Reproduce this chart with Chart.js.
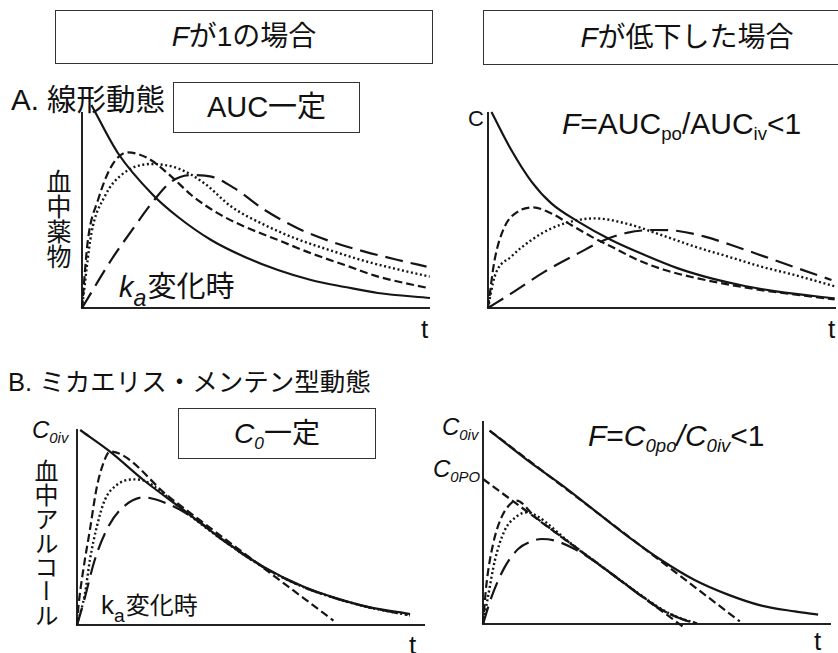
<!DOCTYPE html>
<html lang="ja">
<head>
<meta charset="utf-8">
<script src="https://cdn.jsdelivr.net/npm/chart.js@4/dist/chart.umd.min.js"></script>
<style>
  html, body { margin: 0; padding: 0; background: #fff; }
  body { width: 838px; height: 653px; position: relative; overflow: hidden;
         font-family: "Liberation Sans", "Noto Sans CJK JP", sans-serif; color: #111; }
  .t { position: absolute; white-space: nowrap; line-height: 1; }
  .box { position: absolute; box-sizing: border-box; border: 1.5px solid #333;
         display: flex; align-items: center; justify-content: center;
         white-space: nowrap; line-height: 1; }
  .vert { writing-mode: vertical-rl; font-family: "Noto Sans CJK JP", sans-serif; }
  sub { font-size: 0.62em; vertical-align: -0.32em; line-height: 0; }
  sub.ka { font-size: 0.8em; vertical-align: -0.4em; margin-right: 1px; }
  canvas { position: absolute; }
</style>
</head>
<body>

<!-- column headers -->
<div class="box" style="left:55px;top:10px;width:378px;height:54px;font-size:28px"><span><i>F</i>が1の場合</span></div>
<div class="box" style="left:483px;top:10px;width:408px;height:55px;font-size:28px"><span><i>F</i>が低下した場合</span></div>

<!-- A: linear kinetics -->
<div class="t" style="left:11px;top:85px;font-size:29.5px">A. 線形動態</div>
<div class="box" style="left:173px;top:82px;width:187px;height:51px;font-size:29px">AUC一定</div>
<div class="t vert" style="left:46px;top:169px;font-size:25px">血中薬物</div>
<div class="t" style="left:119px;top:273px;font-size:29px"><i>k</i><sub class="ka"><i>a</i></sub>変化時</div>
<div class="t" style="left:421px;top:316px;font-size:26px">t</div>

<div class="t" style="left:468px;top:108px;font-size:22px">C</div>
<div class="t" style="left:562px;top:109px;font-size:30px"><i>F</i>=AUC<sub>po</sub>/AUC<sub>iv</sub>&lt;1</div>
<div class="t" style="left:828px;top:316px;font-size:26px">t</div>

<!-- B: Michaelis-Menten kinetics -->
<div class="t" style="left:8px;top:370px;font-size:25.5px">B. ミカエリス・メンテン型動態</div>
<div class="t" style="left:32px;top:418px;font-size:24px"><i>C<sub>0iv</sub></i></div>
<div class="box" style="left:178px;top:408px;width:198px;height:51px;font-size:28px"><span><i>C<sub>0</sub></i>一定</span></div>
<div class="t vert" style="left:34px;top:459px;font-size:24px">血中アルコール</div>
<div class="t" style="left:101px;top:592px;font-size:24px"><span style="font-size:26px">k</span><sub class="ka">a</sub>変化時</div>
<div class="t" style="left:409px;top:632px;font-size:26px">t</div>

<div class="t" style="left:442px;top:415px;font-size:24px"><i>C<sub>0iv</sub></i></div>
<div class="t" style="left:433px;top:457px;font-size:24px"><i>C<sub>0PO</sub></i></div>
<div class="t" style="left:588px;top:421px;font-size:30px"><i>F</i>=<i>C<sub>0po</sub>/C<sub>0iv</sub></i>&lt;1</div>
<div class="t" style="left:814px;top:628px;font-size:26px">t</div>

<canvas id="cA1"></canvas>
<canvas id="cA2"></canvas>
<canvas id="cB1"></canvas>
<canvas id="cB2"></canvas>

<script>
// Time runs 0..10 on every panel, concentration in relative units (0..105).
const T_MAX = 10;
const C_MAX = 105;

// ---- A, F = 1 : iv bolus and three oral doses with different ka (same AUC)
const A1_IV   = [[0.27,101.5],[1.03,77.5],[2.04,56.5],[2.76,45.5],[3.71,34],[4.68,25.5],[5.63,19],[6.58,14],[7.56,10.5],[8.5,7.5],[10,5]];
const A1_FAST = [[0,0],[0.17,34],[0.46,54],[0.84,70.7],[1.32,77.8],[1.9,74.8],[2.57,65.7],[3.14,56.5],[3.91,47.3],[4.67,40.7],[5.63,34],[6.59,27.3],[7.55,21.5],[8.51,15.7],[9.99,9.8]];
const A1_MID  = [[0,0],[0.27,37.3],[0.65,55.7],[1.13,66.5],[1.99,72],[2.76,69.8],[3.52,62.3],[4.29,50.7],[5.25,41.5],[6.21,34.3],[7.16,28.7],[8.12,23.5],[9.08,19.3],[9.99,15.7]];
const A1_SLOW = [[0,0],[0.84,24],[1.51,40.7],[2.04,53.2],[2.57,63.2],[3.14,66.5],[3.72,65.7],[4.39,59.8],[5.25,49],[6.21,39.8],[7.16,33.2],[8.12,28.2],[9.08,24],[9.9,20.7]];

// ---- A, F < 1
const A2_IV   = [[0.1,98],[0.67,79],[1.25,63.2],[1.82,52.3],[2.59,43.2],[3.54,34],[4.5,26.5],[5.46,19.8],[6.42,14.8],[7.38,11],[8.33,8.2],[9.96,4.8]];
const A2_FAST = [[0,0],[0.19,24],[0.48,40.7],[0.86,48.2],[1.29,50.3],[1.82,47.3],[2.39,41.5],[2.97,35.7],[3.54,30.7],[4.31,24],[5.08,19],[6.03,14.8],[6.99,11.5],[7.95,8.7],[8.91,6.5],[9.96,4.3]];
const A2_MID  = [[0,0],[0.19,15.7],[0.67,25.7],[1.25,34],[1.82,39.8],[2.59,44],[3.07,44.8],[4.02,42],[4.98,36.5],[5.94,30.7],[6.9,25.7],[7.85,20.7],[8.81,16.5],[10,10.7]];
const A2_SLOW = [[0,0],[0.67,7.3],[1.63,18.2],[2.59,27.3],[3.35,34],[4.02,37.7],[4.79,39],[5.46,38.5],[6.23,35.7],[6.99,31.5],[7.95,25.7],[8.91,19.8],[9.87,14]];

// ---- B, C0 constant (Michaelis-Menten)
const B1_IV   = [[0.09,97.5],[0.95,86.7],[1.91,72.5],[3.06,57.5],[4.2,42.5],[5.35,29.2],[6.5,19.2],[7.46,13.3],[8.42,8.8],[9.57,5.5]];
const B1_FAST = [[0,0],[0.04,9],[0.18,27.5],[0.37,47.5],[0.57,69],[0.76,81],[0.95,86.7],[2.67,63.7],[4.59,38.6],[5.55,26],[6.5,13.6],[7.37,2.2]];
const B1_MID  = [[0,0],[0.23,15.8],[0.37,32.5],[0.57,49.2],[0.8,62.5],[1.14,70],[1.62,72.8],[1.95,72],[3.06,57.2],[4.2,42.3],[5.35,29],[6.5,19],[7.46,13.2],[8.42,8.7],[9.57,4.8]];
const B1_SLOW = [[0,0],[0.2,12],[0.5,32],[0.85,47.5],[1.24,57.5],[1.91,63.8],[2.58,60.8],[3.44,52.5],[4.2,42.3],[5.35,29],[6.5,19],[7.46,13.2],[8.42,8.7],[9.5,5]];

// ---- B, F < 1
const B2_IV      = [[0.19,96.7],[1.29,81.7],[2.25,69.7],[3.21,56.7],[4.17,43.7],[5.12,32],[6.08,22],[7.04,14.7],[8.0,9.2],[8.96,6.3],[9.63,4.7]];
const B2_IV_ZERO = [[0.19,96.7],[7.38,1.3]];
const B2_PO_ZERO = [[0,72.5],[5.8,-2]];
const B2_FAST = [[0,0],[0.1,20],[0.29,40],[0.53,53.3],[0.77,59.7],[0.96,61.7],[1.5,53.5],[2.5,40.5],[3.5,27.7],[4.5,14.8],[5.2,6.5],[5.7,2.5],[6.1,0.3]];
const B2_MID  = [[0,0],[0.14,13.3],[0.34,31.7],[0.62,46.7],[0.96,53.7],[1.25,55.8],[1.53,54.2],[2.5,40.6],[3.5,27.7],[4.5,14.9],[5.2,6.7],[5.7,2.7],[6.15,0.3]];
const B2_SLOW = [[0,0],[0.24,13.3],[0.62,28.3],[1.01,37.5],[1.39,41.3],[1.68,42.5],[2.06,41.7],[2.63,37.5],[3.2,31.4],[4.0,21.1],[5.0,8.5],[5.6,3.2],[6.15,0.3]];

// height of the drawn ordinate line on each panel
const Y_AXIS_TOP = { cA1: 98, cA2: 98, cB1: 98, cB2: 101.5 };

const INK = '#151515';
const STYLES = {
  solid: { borderDash: [],       borderWidth: 2.2 },
  short: { borderDash: [8, 4],   borderWidth: 2.2 },
  dot:   { borderDash: [2, 2.6], borderWidth: 2.4 },
  long:  { borderDash: [18, 8],  borderWidth: 2.2 }
};

function series(points, kind) {
  return Object.assign({
    data: points.map(p => ({ x: p[0], y: p[1] })),
    borderColor: INK,
    backgroundColor: INK,
    fill: false,
    pointRadius: 0,
    cubicInterpolationMode: 'monotone',
    borderCapStyle: 'butt',
    clip: false
  }, STYLES[kind]);
}

// draws the two axis lines from the scales' zero position
const axesPlugin = {
  id: 'axesL',
  beforeDatasetsDraw(chart, args, opts) {
    const { ctx, scales: { x, y } } = chart;
    const x0 = x.getPixelForValue(0);
    const y0 = y.getPixelForValue(0);
    ctx.save();
    ctx.strokeStyle = '#222';
    ctx.lineWidth = 2;
    ctx.beginPath();
    ctx.moveTo(x0, y.getPixelForValue(opts.yTop));
    ctx.lineTo(x0, y0);
    ctx.lineTo(x.getPixelForValue(T_MAX), y0);
    ctx.stroke();
    ctx.restore();
  }
};

// plot area placement on the page: left edge, baseline (C = 0)
const PAD = 10, PLOT_W = 348, PLOT_H = 210;
function panel(id, left, baseline, datasets) {
  const cv = document.getElementById(id);
  cv.width = PLOT_W + 2 * PAD;
  cv.height = PLOT_H + 2 * PAD;
  cv.style.left = (left - PAD) + 'px';
  cv.style.top = (baseline - PLOT_H - PAD) + 'px';
  new Chart(cv, {
    type: 'line',
    data: { datasets },
    options: {
      responsive: false,
      animation: false,
      devicePixelRatio: 1,
      layout: { padding: PAD },
      scales: {
        x: { type: 'linear', min: 0, max: T_MAX, display: false },
        y: { type: 'linear', min: 0, max: C_MAX, display: false }
      },
      plugins: {
        legend: { display: false },
        tooltip: { enabled: false },
        axesL: { yTop: Y_AXIS_TOP[id] }
      }
    },
    plugins: [axesPlugin]
  });
}

panel('cA1', 82, 308, [
  series(A1_IV, 'solid'), series(A1_FAST, 'short'), series(A1_MID, 'dot'), series(A1_SLOW, 'long')
]);
panel('cA2', 488, 308, [
  series(A2_IV, 'solid'), series(A2_FAST, 'short'), series(A2_MID, 'dot'), series(A2_SLOW, 'long')
]);
panel('cB1', 77, 625, [
  series(B1_IV, 'solid'), series(B1_FAST, 'short'), series(B1_MID, 'dot'), series(B1_SLOW, 'long')
]);
panel('cB2', 483, 624, [
  series(B2_IV, 'solid'), series(B2_IV_ZERO, 'short'), series(B2_PO_ZERO, 'short'),
  series(B2_FAST, 'short'), series(B2_MID, 'dot'), series(B2_SLOW, 'long')
]);
</script>
</body>
</html>
